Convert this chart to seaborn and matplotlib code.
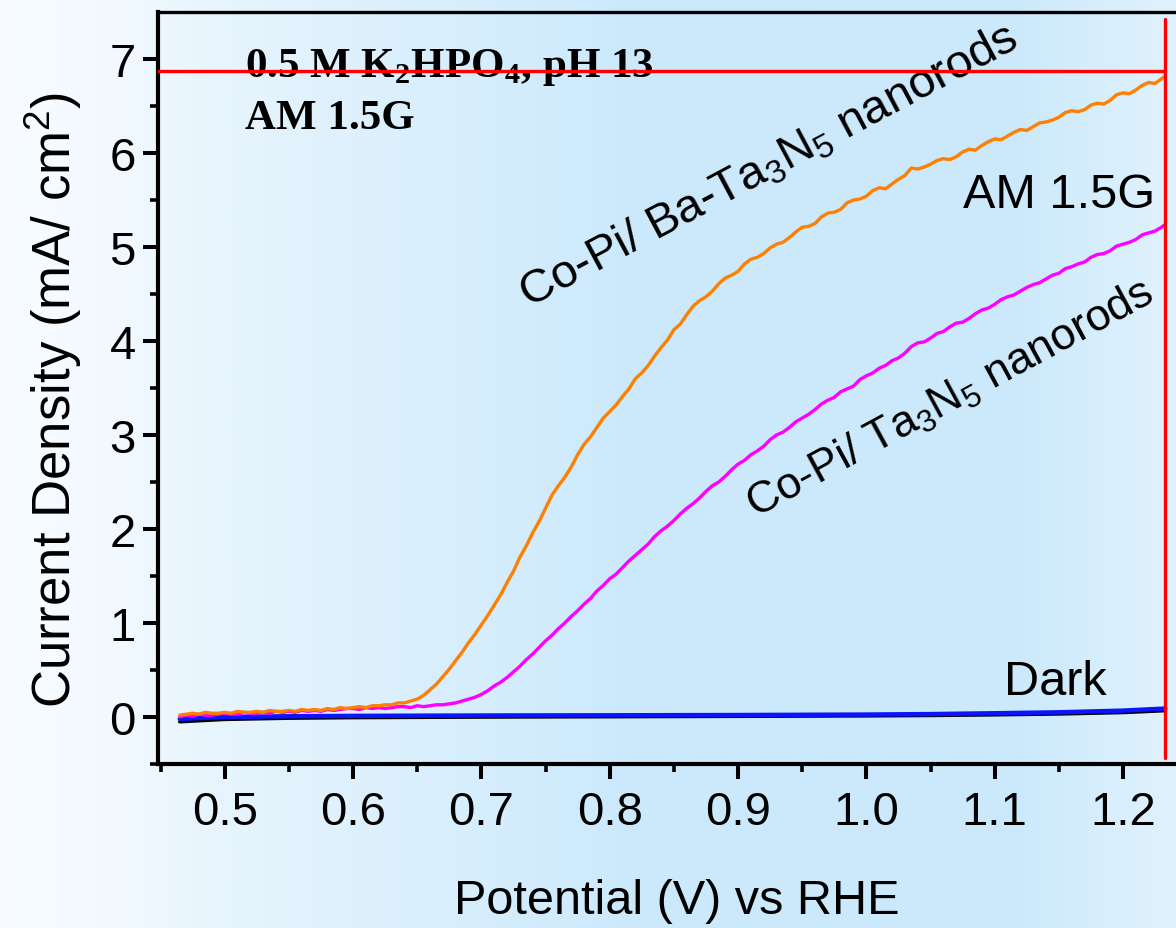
import numpy as np
import pandas as pd
import matplotlib
matplotlib.use("Agg")
import matplotlib.pyplot as plt
from matplotlib.colors import LinearSegmentedColormap
import seaborn as sns

# ---------------- data ----------------
potential = [0.465,
             0.470, 0.475, 0.480, 0.485, 0.490, 0.495, 0.500, 0.505, 0.510, 0.515,
             0.520, 0.525, 0.530, 0.535, 0.540, 0.545, 0.550, 0.555, 0.560, 0.565,
             0.570, 0.575, 0.580, 0.585, 0.590, 0.595, 0.600, 0.605, 0.610, 0.615,
             0.620, 0.625, 0.630, 0.635, 0.640, 0.645, 0.650, 0.655, 0.660, 0.665,
             0.670, 0.675, 0.680, 0.685, 0.690, 0.695, 0.700, 0.705, 0.710, 0.715,
             0.720, 0.725, 0.730, 0.735, 0.740, 0.745, 0.750, 0.755, 0.760, 0.765,
             0.770, 0.775, 0.780, 0.785, 0.790, 0.795, 0.800, 0.805, 0.810, 0.815,
             0.820, 0.825, 0.830, 0.835, 0.840, 0.845, 0.850, 0.855, 0.860, 0.865,
             0.870, 0.875, 0.880, 0.885, 0.890, 0.895, 0.900, 0.905, 0.910, 0.915,
             0.920, 0.925, 0.930, 0.935, 0.940, 0.945, 0.950, 0.955, 0.960, 0.965,
             0.970, 0.975, 0.980, 0.985, 0.990, 0.995, 1.000, 1.005, 1.010, 1.015,
             1.020, 1.025, 1.030, 1.035, 1.040, 1.045, 1.050, 1.055, 1.060, 1.065,
             1.070, 1.075, 1.080, 1.085, 1.090, 1.095, 1.100, 1.105, 1.110, 1.115,
             1.120, 1.125, 1.130, 1.135, 1.140, 1.145, 1.150, 1.155, 1.160, 1.165,
             1.170, 1.175, 1.180, 1.185, 1.190, 1.195, 1.200, 1.205, 1.210, 1.215,
             1.220, 1.225, 1.230, 1.233]

ba_ta3n5 = [0.02,
            0.03, 0.04, 0.03, 0.05, 0.04, 0.04, 0.05, 0.04, 0.06, 0.05,
            0.05, 0.06, 0.05, 0.07, 0.06, 0.06, 0.07, 0.06, 0.08, 0.07,
            0.08, 0.07, 0.09, 0.08, 0.10, 0.09, 0.10, 0.11, 0.10, 0.12,
            0.12, 0.13, 0.13, 0.15, 0.15, 0.17, 0.19, 0.23, 0.29, 0.35,
            0.43, 0.51, 0.60, 0.69, 0.79, 0.88, 0.98, 1.08, 1.19, 1.30,
            1.43, 1.55, 1.70, 1.82, 1.96, 2.08, 2.22, 2.36, 2.46, 2.55,
            2.66, 2.79, 2.90, 2.98, 3.08, 3.18, 3.25, 3.32, 3.41, 3.49,
            3.60, 3.66, 3.74, 3.84, 3.93, 4.01, 4.12, 4.18, 4.28, 4.37,
            4.43, 4.47, 4.53, 4.61, 4.67, 4.70, 4.74, 4.82, 4.87, 4.89,
            4.93, 4.99, 5.03, 5.05, 5.10, 5.16, 5.21, 5.22, 5.25, 5.32,
            5.36, 5.37, 5.40, 5.47, 5.50, 5.51, 5.54, 5.60, 5.63, 5.62,
            5.67, 5.72, 5.76, 5.84, 5.83, 5.85, 5.88, 5.92, 5.94, 5.93,
            5.96, 6.01, 6.04, 6.03, 6.08, 6.12, 6.15, 6.14, 6.18, 6.22,
            6.25, 6.24, 6.28, 6.32, 6.33, 6.35, 6.38, 6.43, 6.45, 6.44,
            6.46, 6.51, 6.53, 6.52, 6.56, 6.62, 6.64, 6.63, 6.67, 6.72,
            6.75, 6.74, 6.79, 6.82]

ta3n5 = [0.00,
         0.02, 0.01, 0.03, 0.02, 0.02, 0.03, 0.04, 0.03, 0.03, 0.05,
         0.04, 0.04, 0.05, 0.04, 0.06, 0.05, 0.06, 0.05, 0.07, 0.06,
         0.07, 0.06, 0.08, 0.07, 0.08, 0.09, 0.09, 0.08, 0.10, 0.09,
         0.10, 0.09, 0.10, 0.11, 0.11, 0.10, 0.12, 0.11, 0.12, 0.13,
         0.13, 0.14, 0.15, 0.17, 0.19, 0.21, 0.24, 0.28, 0.33, 0.37,
         0.42, 0.48, 0.54, 0.61, 0.67, 0.74, 0.81, 0.87, 0.94, 1.00,
         1.07, 1.13, 1.20, 1.26, 1.34, 1.40, 1.47, 1.52, 1.59, 1.66,
         1.72, 1.78, 1.84, 1.92, 1.98, 2.03, 2.09, 2.16, 2.22, 2.27,
         2.33, 2.40, 2.46, 2.50, 2.56, 2.63, 2.69, 2.73, 2.79, 2.83,
         2.88, 2.95, 3.00, 3.03, 3.08, 3.14, 3.18, 3.22, 3.27, 3.33,
         3.37, 3.40, 3.46, 3.49, 3.52, 3.59, 3.63, 3.66, 3.71, 3.74,
         3.79, 3.82, 3.87, 3.94, 3.98, 3.99, 4.03, 4.08, 4.10, 4.15,
         4.19, 4.20, 4.24, 4.29, 4.33, 4.35, 4.39, 4.44, 4.47, 4.49,
         4.53, 4.57, 4.60, 4.62, 4.66, 4.70, 4.72, 4.77, 4.79, 4.82,
         4.84, 4.89, 4.92, 4.93, 4.96, 5.01, 5.03, 5.05, 5.08, 5.13,
         5.15, 5.17, 5.21, 5.24]

dark_potential = [0.465, 0.50, 0.55, 0.60, 0.70, 0.80, 0.90, 1.00, 1.05, 1.10, 1.15, 1.20, 1.233]
dark_black = [-0.05, -0.025, -0.012, -0.006, 0.000, 0.004, 0.008, 0.013, 0.017, 0.024, 0.033, 0.048, 0.068]
dark_blue = [-0.02, 0.000, 0.008, 0.012, 0.016, 0.018, 0.021, 0.026, 0.031, 0.040, 0.050, 0.068, 0.090]

xticks = [0.5, 0.6, 0.7, 0.8, 0.9, 1.0, 1.1, 1.2]
xticklabels = ["0.5", "0.6", "0.7", "0.8", "0.9", "1.0", "1.1", "1.2"]
yticks = [0, 1, 2, 3, 4, 5, 6, 7]

hline_y = 6.87
vline_x = 1.233

# ---------------- style ----------------
sns.set_theme(style="ticks")
plt.rcParams['font.family'] = ['Liberation Sans', 'DejaVu Sans']
plt.rcParams['mathtext.fontset'] = 'custom'
plt.rcParams['mathtext.rm'] = 'Liberation Sans'
plt.rcParams['mathtext.it'] = 'Liberation Sans:italic'
plt.rcParams['mathtext.bf'] = 'Liberation Serif:bold'

W, H = 1176, 929
fig = plt.figure(figsize=(W / 100, H / 100), dpi=100)

# gradient background over whole figure
bg = fig.add_axes([0, 0, 1, 1], zorder=-10)
cmap = LinearSegmentedColormap.from_list(
    "bgblue",
    [(0.0, "#f8fcff"), (0.08, "#f3faff"), (0.20, "#e6f4fd"), (0.52, "#cdeafc"),
     (0.86, "#cbe9fb"), (1.0, "#e0f2fd")])
grad = np.linspace(0, 1, 512).reshape(1, -1)
bg.imshow(grad, aspect="auto", cmap=cmap, extent=[0, 1, 0, 1])
bg.set_axis_off()

left = 158 / W
bottom = (H - 765) / H
top = (H - 13) / H
ax = fig.add_axes([left, bottom, 1.0 - left, top - bottom])
ax.set_facecolor("none")

sns.lineplot(x=dark_potential, y=dark_black, ax=ax, color="black", lw=2.6, estimator=None, sort=False)
sns.lineplot(x=dark_potential, y=dark_blue, ax=ax, color="#0a14ff", lw=3.2, estimator=None, sort=False)
sns.lineplot(x=potential, y=ta3n5, ax=ax, color="#ff00ff", lw=2.4, estimator=None, sort=False)
sns.lineplot(x=potential, y=ba_ta3n5, ax=ax, color="#ff7f00", lw=2.4, estimator=None, sort=False)

ax.set_xlim(0.448, 1.2413)
ax.set_ylim(-0.5, 7.5)

ax.plot([0.448, vline_x], [hline_y, hline_y], color="#ff0000", lw=2.4, zorder=5)
ax.plot([vline_x, vline_x], [-0.44, 7.43], color="#ff0000", lw=2.4, zorder=5)

ax.set_xticks(xticks)
ax.set_xticklabels(xticklabels)
ax.set_xticks([0.45, 0.55, 0.65, 0.75, 0.85, 0.95, 1.05, 1.15], minor=True)
ax.set_yticks(yticks)
ax.set_yticks([-0.5, 0.5, 1.5, 2.5, 3.5, 4.5, 5.5, 6.5], minor=True)

ax.tick_params(axis="both", which="major", direction="out", length=11, width=2.9,
               labelsize=34, color="black", labelcolor="black")
ax.tick_params(axis="both", which="minor", direction="out", length=5.5, width=2.6, color="black")
ax.tick_params(axis="x", which="major", pad=8)
ax.tick_params(axis="y", which="major", pad=5)

for s in ["left", "bottom"]:
    ax.spines[s].set_linewidth(3.0)
    ax.spines[s].set_color("black")
ax.spines["top"].set_linewidth(2.4)
ax.spines["top"].set_color("black")
ax.spines["top"].set_visible(True)
ax.spines["right"].set_visible(False)

ax.set_xlabel("Potential (V) vs RHE", fontsize=35, color="black")
ax.xaxis.set_label_coords(0.51, -0.181, transform=ax.transAxes)
ax.xaxis.label.set_va("center")
ax.set_ylabel("Current Density (mA/ cm$^2$)", fontsize=38, color="black")
ax.yaxis.set_label_coords(-0.103, 0.485, transform=ax.transAxes)
ax.yaxis.label.set_va("center")

# annotations
ax.text(0.5156, 6.82, "0.5 M K$_\\mathbf{2}$HPO$_\\mathbf{4}$, pH 13", fontsize=31,
        family="Liberation Serif", weight="bold", color="black", va="baseline", ha="left")
ax.text(0.5156, 6.27, "AM 1.5G", fontsize=31, family="Liberation Serif", weight="bold",
        color="black", va="baseline", ha="left")

ax.text(0.737, 4.36, "Co-Pi/ Ba-Ta$_3$N$_5$ nanorods", fontsize=34, rotation=28,
        rotation_mode="anchor", ha="left", va="baseline", color="black")
ax.text(0.914, 2.12, "Co-Pi/ Ta$_3$N$_5$ nanorods", fontsize=32, rotation=28.5,
        rotation_mode="anchor", ha="left", va="baseline", color="black")
ax.text(1.225, 5.43, "AM 1.5G", fontsize=35, ha="right", va="baseline", color="black")
ax.text(1.187, 0.24, "Dark", fontsize=35, ha="right", va="baseline", color="black")

fig.savefig("out.png", dpi=100)
